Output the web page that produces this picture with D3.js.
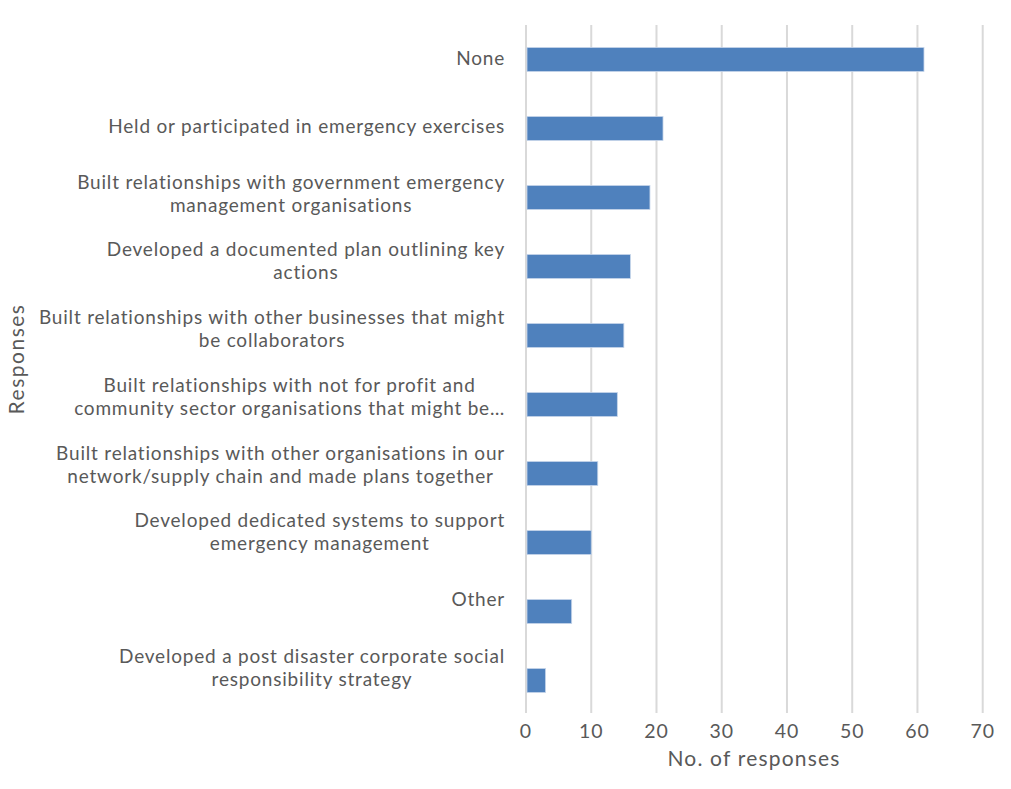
<!DOCTYPE html>
<html>
<head>
<meta charset="utf-8">
<script src="https://cdn.jsdelivr.net/npm/d3@7"></script>
<style>
  html, body { margin: 0; padding: 0; background: #fff; }
  svg { display: block; }
  text { font-family: Lato, "Open Sans", sans-serif; fill: #595959; }
</style>
</head>
<body>
<svg id="chart" width="1011" height="789"></svg>
<script>
// Survey responses: actions taken to prepare for emergencies
const categories = [
  "None",
  "Held or participated in emergency exercises",
  "Built relationships with government emergency\nmanagement organisations",
  "Developed a documented plan outlining key\nactions",
  "Built relationships with other businesses that might\nbe collaborators",
  "Built relationships with not for profit and\ncommunity sector organisations that might be…",
  "Built relationships with other organisations in our\nnetwork/supply chain and made plans together",
  "Developed dedicated systems to support\nemergency management",
  "Other",
  "Developed a post disaster corporate social\nresponsibility strategy"
];
const responses = [61, 21, 19, 16, 15, 14, 11, 10, 7, 3];
const xTicks = [0, 10, 20, 30, 40, 50, 60, 70];
const xTitle = "No. of responses";
const yTitle = "Responses";

const svg = d3.select("#chart");

const plot = { left: 526, right: 982.7, top: 25, bottom: 715 };

const x = d3.scaleLinear().domain([0, 70]).range([plot.left, plot.right]);
const y = d3.scaleBand()
  .domain(categories)
  .range([plot.top, plot.bottom])
  .paddingInner(0.652)
  .paddingOuter(0.326);
// category labels sit on their own slightly tighter spacing
const yLabel = d3.scalePoint().domain(categories).range([58, 667.3]);

// vertical gridlines
svg.append("g")
  .selectAll("line")
  .data(xTicks)
  .join("line")
  .attr("x1", d => x(d)).attr("x2", d => x(d))
  .attr("y1", plot.top).attr("y2", 713)
  .attr("stroke", "#d9d9d9")
  .attr("stroke-width", 2);

// bars
svg.append("g")
  .selectAll("rect")
  .data(categories)
  .join("rect")
  .attr("x", x(0) + 1)
  .attr("y", d => y(d))
  .attr("width", (d, i) => x(responses[i]) - x(0) - 1)
  .attr("height", y.bandwidth())
  .attr("fill", "#4f81bd")
  .attr("stroke", "#c6d5ea")
  .attr("stroke-width", 0.8);

// x tick labels
svg.append("g")
  .selectAll("text")
  .data(xTicks)
  .join("text")
  .attr("x", d => x(d))
  .attr("y", 738)
  .attr("text-anchor", "middle")
  .style("font-size", "19.5px")
  .style("letter-spacing", "1px")
  .text(d => d);

// category labels (multi-line, centred within a right-aligned block)
const labelRight = 505;
const lineGap = 23;
const fontSize = 19;
const labels = svg.append("g")
  .selectAll("g")
  .data(categories)
  .join("g");

labels.each(function (d) {
  const g = d3.select(this);
  const lines = d.split("\n");
  const cy = yLabel(d);
  const texts = lines.map((ln, k) =>
    g.append("text")
      .attr("y", cy + (k - (lines.length - 1) / 2) * lineGap + fontSize * 0.36)
      .attr("text-anchor", "middle")
      .style("font-size", fontSize + "px")
      .style("letter-spacing", "0.8px")
      .text(ln)
  );
  const widths = texts.map(t => t.node().getComputedTextLength());
  const maxW = d3.max(widths);
  texts.forEach(t => t.attr("x", labelRight - maxW / 2));
});

// axis titles
svg.append("text")
  .attr("x", 754)
  .attr("y", 766)
  .attr("text-anchor", "middle")
  .style("font-size", "21px")
  .style("letter-spacing", "1.2px")
  .text(xTitle);

svg.append("text")
  .attr("transform", "translate(24,359) rotate(-90)")
  .attr("text-anchor", "middle")
  .style("font-size", "21px")
  .style("letter-spacing", "1.5px")
  .text(yTitle);
</script>
</body>
</html>
